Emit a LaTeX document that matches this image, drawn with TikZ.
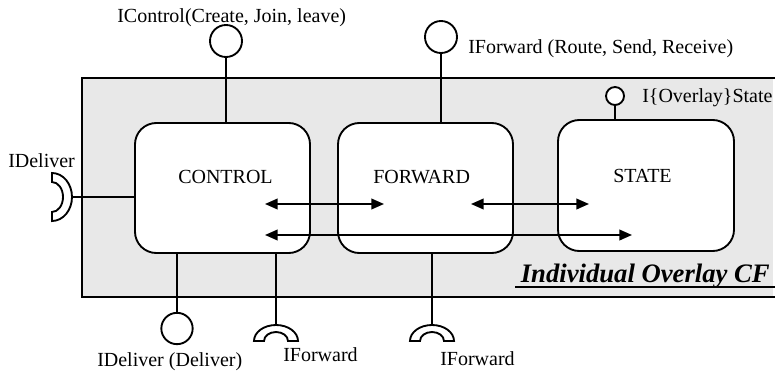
\documentclass[tikz,border=0pt]{standalone}
\usepackage{fontspec}
\setmainfont{Liberation Serif}
\usetikzlibrary{arrows.meta}
\definecolor{cfgray}{RGB}{232,232,232}
\tikzset{
  ln/.style={line width=1.4pt},
  comp/.style={draw, line width=1.4pt, fill=white, rounded corners=16pt, minimum width=131.25pt, minimum height=97.5pt, inner sep=0pt},
  lolli/.style={draw, line width=1.4pt, fill=white, circle, inner sep=0pt},
  sock/.style={draw, line width=1.4pt, fill=white},
  txt/.style={inner sep=0pt, anchor=base west, font=\fontsize{15}{18}\selectfont},
  biarrow/.style={line width=1.4pt, {Triangle[length=9.5pt,width=8pt]}-{Triangle[length=9.5pt,width=8pt]}},
  onearrow/.style={line width=1.4pt, -{Triangle[length=9.5pt,width=8pt]}}
}
\begin{document}
\begin{tikzpicture}[x=0.75pt,y=-0.75pt]
\useasboundingbox (0,0) rectangle (775,371);
% container
\fill[cfgray] (82,78) rectangle (773,297);
\draw[ln] (775,78) -- (82,78) -- (82,297) -- (775,297);
% components
\node[comp] (ctrl) at (222.5,188) {};
\node[comp] (fwd) at (425.5,188) {};
\node[comp, minimum width=132pt, minimum height=98.25pt] (state) at (646,185.5) {};
\node[txt] (tctrl) at (178,183) {CONTROL};
\node[txt] (tfwd) at (373,183) {FORWARD};
\node[txt] (tstate) at (613,182) {STATE};
% provided interfaces (lollipops)
\node[lolli, minimum size=24pt] (ictl) at (226,41) {};
\node[lolli, minimum size=24pt] (ifwd) at (441,37) {};
\node[lolli, minimum size=13.5pt] (ist) at (615,96) {};
\node[lolli, minimum size=23.5pt] (idel) at (177,328.5) {};
\draw[ln] (ictl.south) -- (ctrl.north -| ictl);
\draw[ln] (ifwd.south) -- (fwd.north -| ifwd);
\draw[ln] (ist.south) -- (state.north -| ist);
\draw[ln] (idel.north) -- (ctrl.south -| idel);
% required interfaces (sockets)
\coordinate (sdel) at (72,197);
\coordinate (sf1) at (276,325);
\coordinate (sf2) at (432,325);
\draw[sock] (52,173) arc[start angle=270, end angle=450, x radius=20, y radius=24]
  -- (52,212) arc[start angle=90, end angle=-90, x radius=11, y radius=15] -- cycle;
\draw[sock] (254,341) arc[start angle=180, end angle=360, x radius=22, y radius=16]
  -- (288,341) arc[start angle=0, end angle=-180, x radius=12, y radius=9] -- cycle;
\draw[sock] (410,341) arc[start angle=180, end angle=360, x radius=22, y radius=16]
  -- (444,341) arc[start angle=0, end angle=-180, x radius=12, y radius=9] -- cycle;
\draw[ln] (sdel) -- (ctrl.west |- sdel);
\draw[ln] (sf1) -- (ctrl.south -| sf1);
\draw[ln] (sf2) -- (fwd.south -| sf2);
% interface labels
\node[txt] (lictl) at (117,22) {IControl(Create, Join, leave)};
\node[txt] (lifwd) at (468,53) {IForward (Route, Send, Receive)};
\node[txt] (list) at (642,102) {I\{Overlay\}State};
\node[txt] (lidl) at (8,167) {IDeliver};
\node[txt] (lidel) at (97,366) {IDeliver (Deliver)};
\node[txt] (lsf1) at (283,361) {IForward};
\node[txt] (lsf2) at (440,365) {IForward};
% internal arrows
\coordinate (a1l) at (265,204); \coordinate (a1r) at (384,204);
\coordinate (a2l) at (471,204); \coordinate (a2r) at (589,204);
\coordinate (a3l) at (265,235); \coordinate (a3r) at (632,235);
\draw[biarrow] (a1l) -- (a1r);
\draw[biarrow] (a2l) -- (a2r);
\draw[biarrow] (a3l) -- (a3r);
% title
\node[inner sep=0pt, anchor=base east, font=\fontsize{20}{24}\selectfont\bfseries\itshape] (title) at (770,282) {Individual Overlay CF};
\draw[line width=1.2pt] (515,287) -- (775,287);
\end{tikzpicture}
\end{document}
